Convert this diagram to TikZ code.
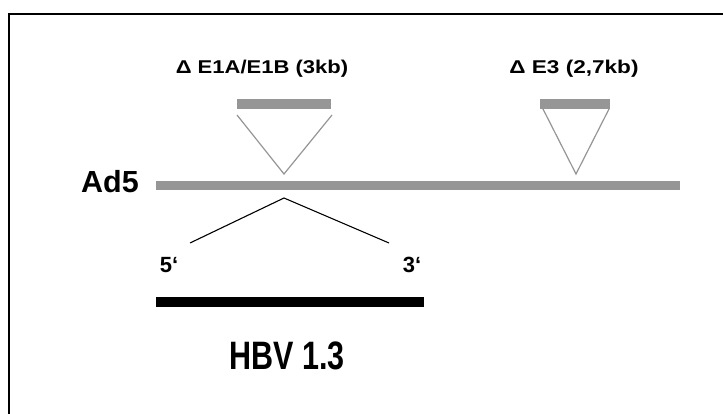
\documentclass[tikz,border=0pt]{standalone}
\usepackage{graphicx}
\usepackage{fontspec}
\setmainfont{Liberation Sans}
\definecolor{bargray}{RGB}{150,150,150}
\begin{document}
\begin{tikzpicture}[x=1pt,y=1pt,
  lbl/.style={inner sep=0pt,anchor=base,font=\bfseries},
  toplbl/.style={lbl,font=\bfseries\fontsize{18.5}{18.5}\selectfont},
  graybar/.style={draw=bargray,line width=10pt},
  tri/.style={draw=bargray,line width=1.2pt},
  blk/.style={draw=black,line width=1.1pt}]
\useasboundingbox (0,0) rectangle (723,414);
\clip (0,0) rectangle (723,414);
\fill[white] (0,0) rectangle (723,414);
% frame
\draw[line width=2.5pt] (9,-5) -- (9,400) -- (730,400);
% Ad5 genome
\coordinate (ad5l) at (156,228);
\coordinate (ad5r) at (680,228);
\draw[graybar,line width=9pt] (ad5l) -- (ad5r);
\node[lbl,font=\bfseries\fontsize{30.5}{30.5}\selectfont] (ad5) at (110,221) {Ad5};
% E1 deletion
\coordinate (e1l) at (237,310);
\coordinate (e1r) at (331,310);
\draw[graybar] (e1l) -- (e1r);
\coordinate (e1tl) at (237,299);
\coordinate (e1tr) at (332,299);
\coordinate (e1apex) at (284,240);
\draw[tri] (e1tl) -- (e1apex) -- (e1tr);
\node[toplbl] (e1lab) at (262,340) {\scalebox{1.19}[1]{Δ E1A/E1B (3kb)}};
% E3 deletion
\coordinate (e3l) at (540,310);
\coordinate (e3r) at (610,310);
\draw[graybar] (e3l) -- (e3r);
\coordinate (e3tl) at (543,305);
\coordinate (e3tr) at (609,305);
\coordinate (e3apex) at (576,240);
\draw[tri] (e3tl) -- (e3apex) -- (e3tr);
\node[toplbl] (e3lab) at (574,340) {\scalebox{1.22}[1]{Δ E3 (2,7kb)}};
% insertion
\coordinate (ins) at (284,216);
\coordinate (insl) at (190,171);
\coordinate (insr) at (389,171);
\draw[blk] (insl) -- (ins) -- (insr);
\node[lbl,font=\bfseries\fontsize{22}{22}\selectfont] (p5) at (169,141) {5‘};
\node[lbl,font=\bfseries\fontsize{22}{22}\selectfont] (p3) at (412,141) {3‘};
% HBV
\coordinate (hbvl) at (156,112);
\coordinate (hbvr) at (424,112);
\draw[line width=10pt] (hbvl) -- (hbvr);
\node[lbl,font=\bfseries\fontsize{30.5}{30.5}\selectfont] (hbv) at (287,44) {\scalebox{1}[1.3]{HBV 1.3}};
\end{tikzpicture}
\end{document}
